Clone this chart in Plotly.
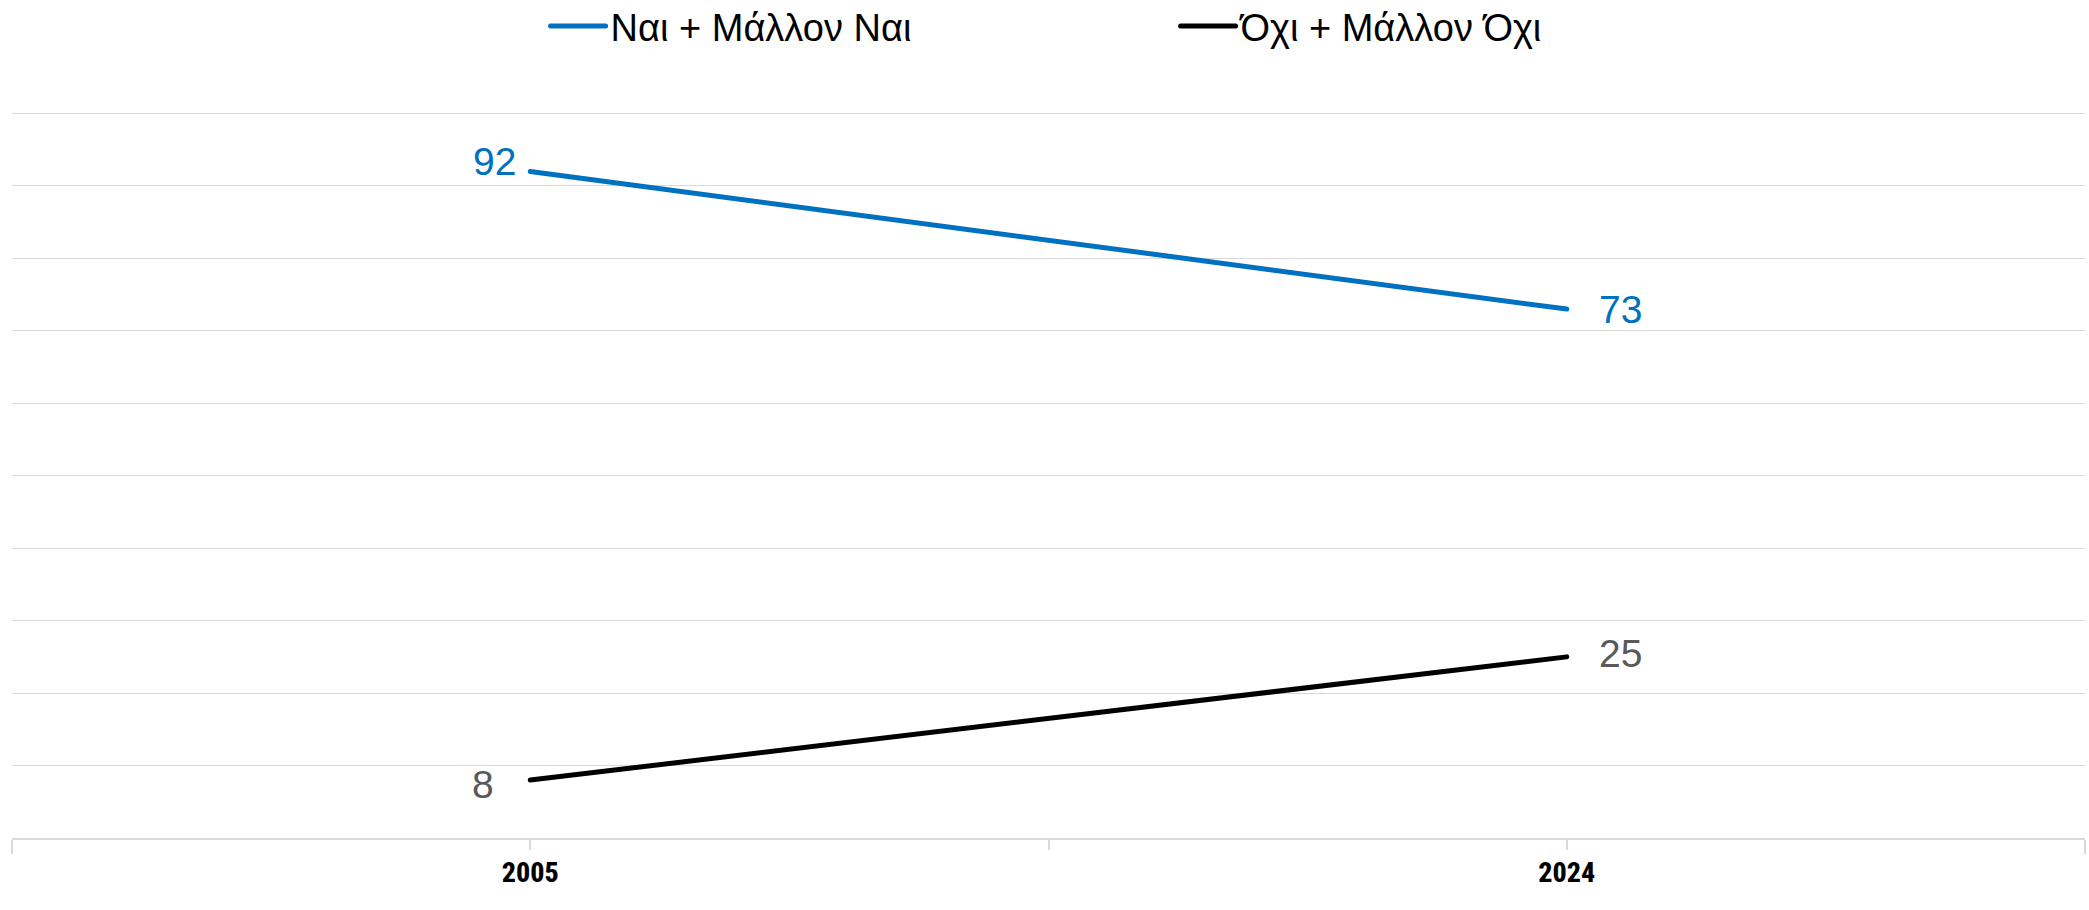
import plotly.graph_objects as go

years = ["2005", "2024"]
x_pos = [0, 1]
yes_vals = [92, 73]
no_vals = [8, 25]
series_names = ["Ναι + Μάλλον Ναι", "Όχι + Μάλλον Όχι"]

BLUE = "#0070c0"
BLACK = "#000000"
LABEL_GRAY = "#595959"
GRID = "#d9d9d9"

fig = go.Figure()
fig.add_trace(go.Scatter(x=x_pos, y=yes_vals, mode="lines", name=series_names[0],
                         line=dict(color=BLUE, width=5), hoverinfo="skip"))
fig.add_trace(go.Scatter(x=x_pos, y=no_vals, mode="lines", name=series_names[1],
                         line=dict(color=BLACK, width=5), hoverinfo="skip"))

label_font = "Liberation Sans, Arial, sans-serif"
annos = []
for i, (xv, yv) in enumerate(zip(x_pos, yes_vals)):
    annos.append(dict(x=xv, y=yv, text=str(yv), showarrow=False,
                      xanchor="right" if i == 0 else "left",
                      xshift=-12 if i == 0 else 30, yshift=10 if i == 0 else 0,
                      font=dict(family=label_font, size=39, color=BLUE)))
for i, (xv, yv) in enumerate(zip(x_pos, no_vals)):
    annos.append(dict(x=xv, y=yv, text=str(yv), showarrow=False,
                      xanchor="right" if i == 0 else "left",
                      xshift=-34 if i == 0 else 30, yshift=-4 if i == 0 else 3,
                      font=dict(family=label_font, size=39, color=LABEL_GRAY)))

fig.update_layout(
    width=2089, height=910,
    margin=dict(l=12, r=4, t=112, b=72, pad=0, autoexpand=False),
    paper_bgcolor="white", plot_bgcolor="white",
    annotations=annos,
    showlegend=True,
    legend=dict(orientation="h", x=0.2574, y=1.118, xanchor="left", yanchor="middle",
                font=dict(family=label_font, size=38, color="#000000"),
                entrywidth=560, entrywidthmode="pixels", itemwidth=55,
                bgcolor="rgba(0,0,0,0)"),
    xaxis=dict(range=[-0.5, 1.5], tickvals=[0, 0.5, 1], ticktext=[years[0], "", years[1]],
               showgrid=False, zeroline=False, showline=True, linecolor=GRID, linewidth=2,
               ticks="outside", ticklen=10, tickwidth=2, tickcolor=GRID,
               minor=dict(tickvals=[-0.5, 1.5], ticks="outside", ticklen=14, tickwidth=2, tickcolor=GRID),
               tickfont=dict(family="Roboto, Liberation Sans, sans-serif",
                             size=28, color="#000000", weight=800),
               ticklabelstandoff=-2,
               automargin=False, fixedrange=True),
    yaxis=dict(range=[0, 100.2], tickvals=list(range(10, 101, 10)), showgrid=True, gridcolor=GRID, gridwidth=1,
               showticklabels=False, zeroline=False, showline=False, automargin=False, fixedrange=True),
)

css = ("document.body.style.margin='0';"
       "document.body.style.overflow='hidden';"
       "var s=document.createElement('style');"
       "s.textContent='.xtick text{font-stretch:75% !important;}"
       " .scatterlayer path.js-line, .legendlines path{stroke-linecap:round !important;}"
       " .modebar-container{display:none !important;}';"
       "document.head.appendChild(s);")
fig.write_html("out.html", post_script=css, config={"displayModeBar": False})
